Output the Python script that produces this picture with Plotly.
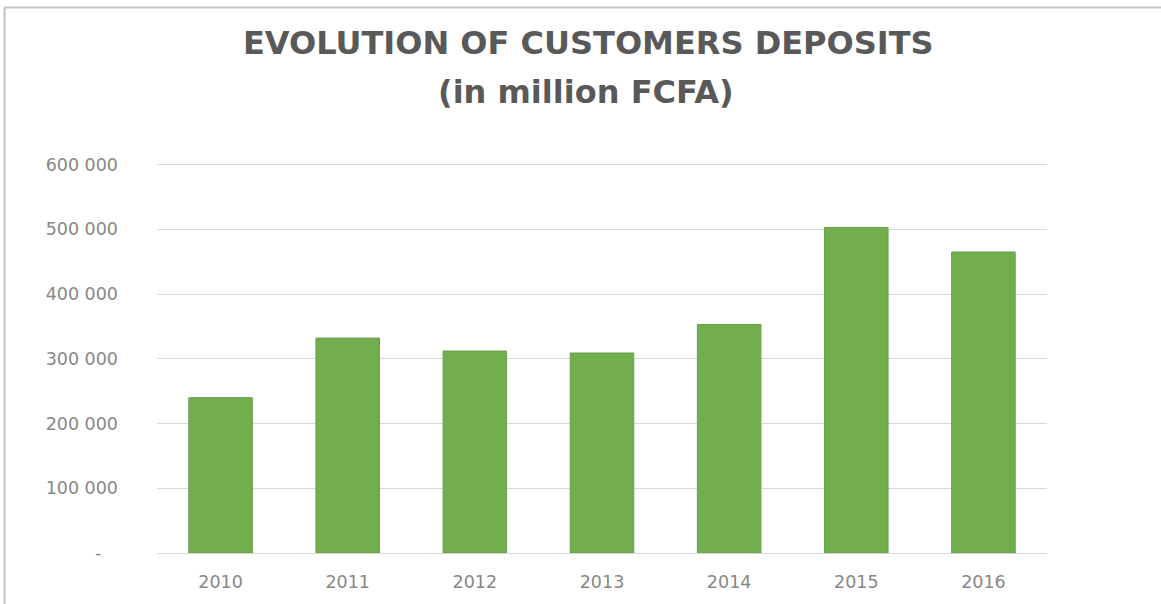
import plotly.graph_objects as go

# Customer deposits per year (million FCFA)
years = ["2010", "2011", "2012", "2013", "2014", "2015", "2016"]
deposits = [240000, 332000, 312000, 309000, 353000, 503000, 465000]

# Y-axis ticks (zero shown as an accounting-style dash)
y_tickvals = [0, 100000, 200000, 300000, 400000, 500000, 600000]
y_ticktext = ["-\u00a0\u00a0\u00a0", "100 000", "200 000", "300 000", "400 000", "500 000", "600 000"]

title_line1 = "EVOLUTION OF CUSTOMERS DEPOSITS"
title_line2 = "(in million FCFA)"

W, H = 1161, 604
ML, MR, MT, MB = 157, 114, 162, 51
PW, PH = W - ML - MR, H - MT - MB


def px_x(x):
    return (x - ML) / PW


def px_y(y):
    return (H - MB - y) / PH


fig = go.Figure(
    go.Bar(
        x=years,
        y=deposits,
        marker=dict(color="#73ae4e", line=dict(color="#6b9f50", width=1)),
        hoverinfo="x+y",
    )
)

tick_font = dict(family="DejaVu Sans", size=17.5, color="#878787")

fig.update_layout(
    width=W,
    height=H,
    margin=dict(l=ML, r=MR, t=MT, b=MB),
    paper_bgcolor="white",
    plot_bgcolor="white",
    showlegend=False,
    bargap=0.5,
    xaxis=dict(
        type="category",
        showgrid=False,
        showline=False,
        tickfont=tick_font,
        ticks="",
        ticklabelstandoff=16,
    ),
    yaxis=dict(
        range=[0, 604000],
        tickvals=y_tickvals,
        ticktext=y_ticktext,
        showgrid=True,
        gridcolor="#d9d9d9",
        gridwidth=1,
        zeroline=True,
        zerolinecolor="#d9d9d9",
        zerolinewidth=1,
        showline=False,
        ticks="",
        tickfont=tick_font,
        ticklabelstandoff=38,
    ),
    annotations=[
        dict(
            text=title_line1,
            xref="paper", yref="paper",
            x=px_x(588), y=px_y(43),
            xanchor="center", yanchor="middle",
            showarrow=False,
            font=dict(family="DejaVu Sans", size=32, color="#595959", weight="bold"),
        ),
        dict(
            text=title_line2,
            xref="paper", yref="paper",
            x=px_x(586), y=px_y(92),
            xanchor="center", yanchor="middle",
            showarrow=False,
            font=dict(family="DejaVu Sans", size=32, color="#595959", weight="bold"),
        ),
    ],
    shapes=[
        # thin frame along the top and left edges
        dict(type="line", xref="paper", yref="paper",
             x0=px_x(4), x1=px_x(1161), y0=px_y(7.5), y1=px_y(7.5),
             line=dict(color="#c4c4c4", width=2)),
        dict(type="line", xref="paper", yref="paper",
             x0=px_x(4.5), x1=px_x(4.5), y0=px_y(7), y1=px_y(604),
             line=dict(color="#c4c4c4", width=2)),
    ],
)

fig.write_html("out.html")
